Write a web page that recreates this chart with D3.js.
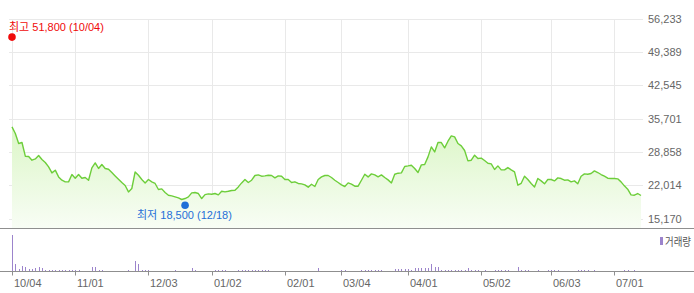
<!DOCTYPE html>
<html><head><meta charset="utf-8">
<script src="https://cdn.jsdelivr.net/npm/d3@7"></script>
<style>
html,body{margin:0;padding:0;background:#fff;}
svg{display:block;}
text{font-family:"Liberation Sans",Arial,"Noto Sans CJK KR",sans-serif;}
</style></head>
<body>
<svg id="chart" width="694" height="293"></svg>
<script>
// ---- data ----
const tickLabels = ["10/04","11/01","12/03","01/02","02/01","03/04","04/01","05/02","06/03","07/01"];
const tickIndex = [0,19,41,60,82,99,119,141,162,181];
const yTicks = [15170,22014,28858,35701,42545,49389,56233];

const prices = [
33980,32620,30570,30770,27960,27900,27140,27410,28100,27280,
26670,25770,24530,25090,23710,23030,22690,22690,24200,23440,
24200,23440,23580,23030,25560,26590,25440,26260,25440,25290,
24610,23920,23240,22560,21940,20630,21330,24740,24040,23180,
22480,23180,22690,22360,21120,21250,20510,19950,19810,19600,
19400,19070,19270,19600,20430,20510,20300,19270,20080,20220,
20150,20300,20020,20770,20640,20770,20920,20980,21660,22480,
23180,22560,23030,24000,24120,23850,23920,24060,24000,23510,
23920,23850,23180,23180,22560,22700,22360,22290,22070,21600,
22210,21740,23180,23710,24000,24000,23590,23030,22560,22070,
21740,22480,22210,21800,21800,23030,24260,23710,24330,24120,
23710,24120,23590,23100,22480,24260,24470,24540,25850,25970,
26110,25440,24610,26180,26250,27820,29870,28840,30770,30770,
29670,31040,32130,31920,30560,30070,29130,27000,27140,28170,
27490,27560,27080,26520,26390,25230,25970,25150,25150,25630,
25150,24740,22010,22400,23850,23180,22360,21660,23380,22890,
22290,23180,23180,22890,23510,23380,23030,23100,22690,22890,
22290,23850,24330,24260,24400,24940,24610,24200,23850,23440,
23380,23380,23310,22690,21870,21190,20020,19950,20300,19890
];

const volumes = [
4400,920,320,680,560,320,280,440,560,360,
200,200,200,200,200,200,200,200,200,200,
200,0,0,0,480,480,180,180,0,0,
0,0,0,0,0,180,0,1200,840,200,
200,200,0,0,0,0,0,0,0,180,
0,0,0,0,360,180,0,0,0,0,
0,180,180,180,180,0,0,0,180,180,
180,180,180,180,180,180,180,180,0,0,
0,0,0,0,0,0,0,0,0,0,
0,0,360,0,0,0,0,0,0,180,
180,0,0,0,0,180,180,180,180,180,
180,180,0,0,0,300,300,300,300,300,
180,400,400,400,400,400,920,480,560,180,
180,180,180,180,180,180,180,360,180,180,
180,0,180,0,0,180,180,180,180,180,
0,0,480,180,180,180,0,0,180,0,
0,180,180,180,180,0,0,0,0,0,
180,180,180,180,0,180,0,0,0,0,
0,0,0,0,180,180,0,180,0,0
];

const highLabel = "최고 51,800 (10/04)";
const highValue = 51800, highIndex = 0;
const lowLabel = "최저 18,500 (12/18)";
const lowValue = 18500, lowIndex = 52;
const volumeLegend = "거래량";

// ---- drawing ----
const svg = d3.select("#chart");
const x = d3.scaleLinear().domain([0, prices.length - 1]).range([12, 641]);
const y = d3.scaleLinear().domain([15170, 56233]).range([218.5, 18.5]);
const yv = d3.scaleLinear().domain([0, 4400]).range([271.5, 234.5]);
const panelBottom = 228.5;

const defs = svg.append("defs");
const grad = defs.append("linearGradient").attr("id","fillGrad")
  .attr("gradientUnits","userSpaceOnUse").attr("x1",0).attr("x2",0).attr("y1",125).attr("y2",228);
grad.append("stop").attr("offset","0%").attr("stop-color","#dbf6c6");
grad.append("stop").attr("offset","100%").attr("stop-color","#f8fdf5");

// horizontal grid
svg.append("g").selectAll("line").data(yTicks).join("line")
  .attr("x1", 9).attr("x2", 643)
  .attr("y1", d => Math.round(y(d)) + 0.5).attr("y2", d => Math.round(y(d)) + 0.5)
  .attr("stroke", "#e9e9e9").attr("stroke-width", 1);

// vertical grid
svg.append("g").selectAll("line").data(tickIndex).join("line")
  .attr("x1", d => Math.round(x(d)) + 0.5).attr("x2", d => Math.round(x(d)) + 0.5)
  .attr("y1", 19).attr("y2", panelBottom)
  .attr("stroke", "#e9e9e9").attr("stroke-width", 1);

// area + line
const area = d3.area().x((d,i) => x(i)).y0(panelBottom - 0.5).y1(d => y(d));
svg.append("path").datum(prices).attr("d", area).attr("fill", "url(#fillGrad)");
const line = d3.line().x((d,i) => x(i)).y(d => y(d));
svg.append("path").datum(prices).attr("d", line)
  .attr("fill", "none").attr("stroke", "#6dce3a").attr("stroke-width", 1.4)
  .attr("stroke-linejoin", "round");

// y axis labels
svg.append("g").selectAll("text").data(yTicks).join("text")
  .attr("x", 648).attr("y", d => y(d) + 4)
  .attr("font-size", 11).attr("fill", "#666")
  .text(d => d3.format(",")(d));

// panel separators
svg.append("line").attr("x1",0).attr("x2",694).attr("y1",panelBottom).attr("y2",panelBottom)
  .attr("stroke","#8f8f8f").attr("stroke-width",1);

// volume bars
svg.append("g").selectAll("rect").data(volumes).join("rect")
  .attr("x", (d,i) => Math.round(x(i)))
  .attr("width", 1)
  .attr("y", d => Math.round(yv(d)))
  .attr("height", d => Math.max(0, Math.round(yv(0)) - Math.round(yv(d))))
  .attr("fill", "#9c84cc");

// volume axis
const axisY = 271.5;
svg.append("line").attr("x1",0).attr("x2",694).attr("y1",axisY).attr("y2",axisY)
  .attr("stroke","#8f8f8f").attr("stroke-width",1);
svg.append("g").selectAll("line").data(tickIndex).join("line")
  .attr("x1", d => Math.round(x(d)) + 0.5).attr("x2", d => Math.round(x(d)) + 0.5)
  .attr("y1", axisY).attr("y2", axisY + 4)
  .attr("stroke", "#8f8f8f");
svg.append("g").selectAll("text").data(tickIndex).join("text")
  .attr("x", d => Math.round(x(d)) + 2).attr("y", 287)
  .attr("font-size", 11).attr("fill", "#666")
  .text((d,i) => tickLabels[i]);

// volume legend
svg.append("rect").attr("x", 660).attr("y", 237).attr("width", 3).attr("height", 8).attr("fill", "#9c84cc");
svg.append("text").attr("x", 665).attr("y", 245.5).attr("font-size", 11).attr("fill", "#555")
  .attr("font-family", "'Noto Sans CJK KR',sans-serif")
  .attr("textLength", 26).attr("lengthAdjust", "spacingAndGlyphs")
  .text(volumeLegend);

// high / low markers
const hx = x(highIndex), hy = y(highValue) - 3;
svg.append("circle").attr("cx", hx).attr("cy", hy).attr("r", 3.8).attr("fill", "#f00a0a");
svg.append("text").attr("x", 9).attr("y", hy - 6).attr("font-size", 11).attr("fill", "#f00a0a")
  .text(highLabel);

const lx = x(lowIndex), ly = y(lowValue) + 3;
svg.append("circle").attr("cx", lx).attr("cy", ly).attr("r", 3.8).attr("fill", "#1f6fd8");
svg.append("text").attr("x", 137).attr("y", ly + 14).attr("font-size", 11).attr("fill", "#1f6fd8")
  .text(lowLabel);
</script>
</body></html>
